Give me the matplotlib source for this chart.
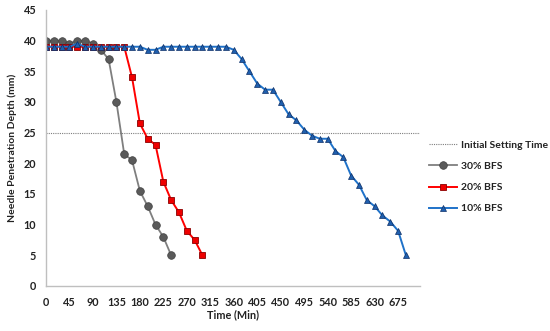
import matplotlib
matplotlib.use("Agg")
import matplotlib.pyplot as plt
import numpy as np

plt.rcParams['font.family'] = ['Lato', 'DejaVu Sans']

t30 = [0, 15, 30, 45, 60, 75, 90, 105, 120, 135, 150, 165, 180, 195, 210, 225, 240]
v30 = [40, 40, 40, 39.5, 40, 40, 39.5, 38.5, 37, 30, 21.5, 20.5, 15.5, 13, 10, 8, 5]

t20 = [0, 15, 30, 45, 60, 75, 90, 105, 120, 135, 150, 165, 180, 195, 210, 225, 240, 255, 270, 285, 300]
v20 = [39, 39, 39, 39, 39, 39, 39, 39, 39, 39, 39, 34, 26.5, 24, 23, 17, 14, 12, 9, 7.5, 5]

t10 = list(range(0, 691, 15))
v10 = [39, 39, 39, 39, 39.5, 39, 39, 39, 39, 39, 39, 39, 39, 38.5, 38.5, 39, 39, 39, 39, 39,
       39, 39, 39, 39, 38.5, 37, 35, 33, 32, 32, 30, 28, 27, 25.5, 24.5, 24, 24, 22, 21,
       18, 16.5, 14, 13, 11.5, 10.5, 9, 5]

setting_time = 25
xticks = list(range(0, 676, 45))
yticks = list(range(0, 46, 5))

fig = plt.figure(figsize=(5.5, 3.31), dpi=100)
ax = fig.add_axes([0.0836, 0.136, 0.68, 0.834])

ax.axhline(setting_time, color='#7f7f7f', linestyle=(0, (1, 1)), linewidth=0.8,
           label='Initial Setting Time')
ax.plot(t30, v30, color='#7f7f7f', lw=1.3, marker='o', ms=5.5, mfc='#5a5a5a',
        mec='#404040', mew=0.5, label='30% BFS')
ax.plot(t20, v20, color='#ff0000', lw=1.4, marker='s', ms=5, mfc='#ee0000',
        mec='#8b0000', mew=0.6, label='20% BFS')
ax.plot(t10, v10, color='#1f72c9', lw=1.4, marker='^', ms=5, mfc='#1f5fae',
        mec='#0d2f66', mew=0.5, label='10% BFS')

ax.set_xlim(0, 717)
ax.set_ylim(0, 45)
ax.set_xticks(xticks)
ax.set_yticks(yticks)
ax.tick_params(axis='x', length=0, labelsize=7.8, colors='#222222', pad=8)
ax.tick_params(axis='y', length=0, labelsize=7.8, colors='#222222', pad=7)
for lbl in ax.get_xticklabels() + ax.get_yticklabels():
    lbl.set_fontweight('bold')
for s in ['top', 'right']:
    ax.spines[s].set_visible(False)
for s in ['left', 'bottom']:
    ax.spines[s].set_color('#bfbfbf')
    ax.spines[s].set_linewidth(1.0)

ax.set_xlabel('Time (Min)', fontsize=7.8, fontweight='bold', color='#222222', labelpad=1)
ax.set_ylabel('Needle Penetration Depth (mm)', fontsize=7.5, fontweight='bold',
              color='#222222', labelpad=5)

leg = ax.legend(loc='center left', bbox_to_anchor=(1.0, 0.395), frameon=False,
                prop={'weight': 'bold', 'size': 7.5}, handlelength=2.7,
                labelspacing=1.15, handletextpad=0.3)
for txt in leg.get_texts():
    txt.set_color('#222222')

fig.savefig('out.png', dpi=100)
